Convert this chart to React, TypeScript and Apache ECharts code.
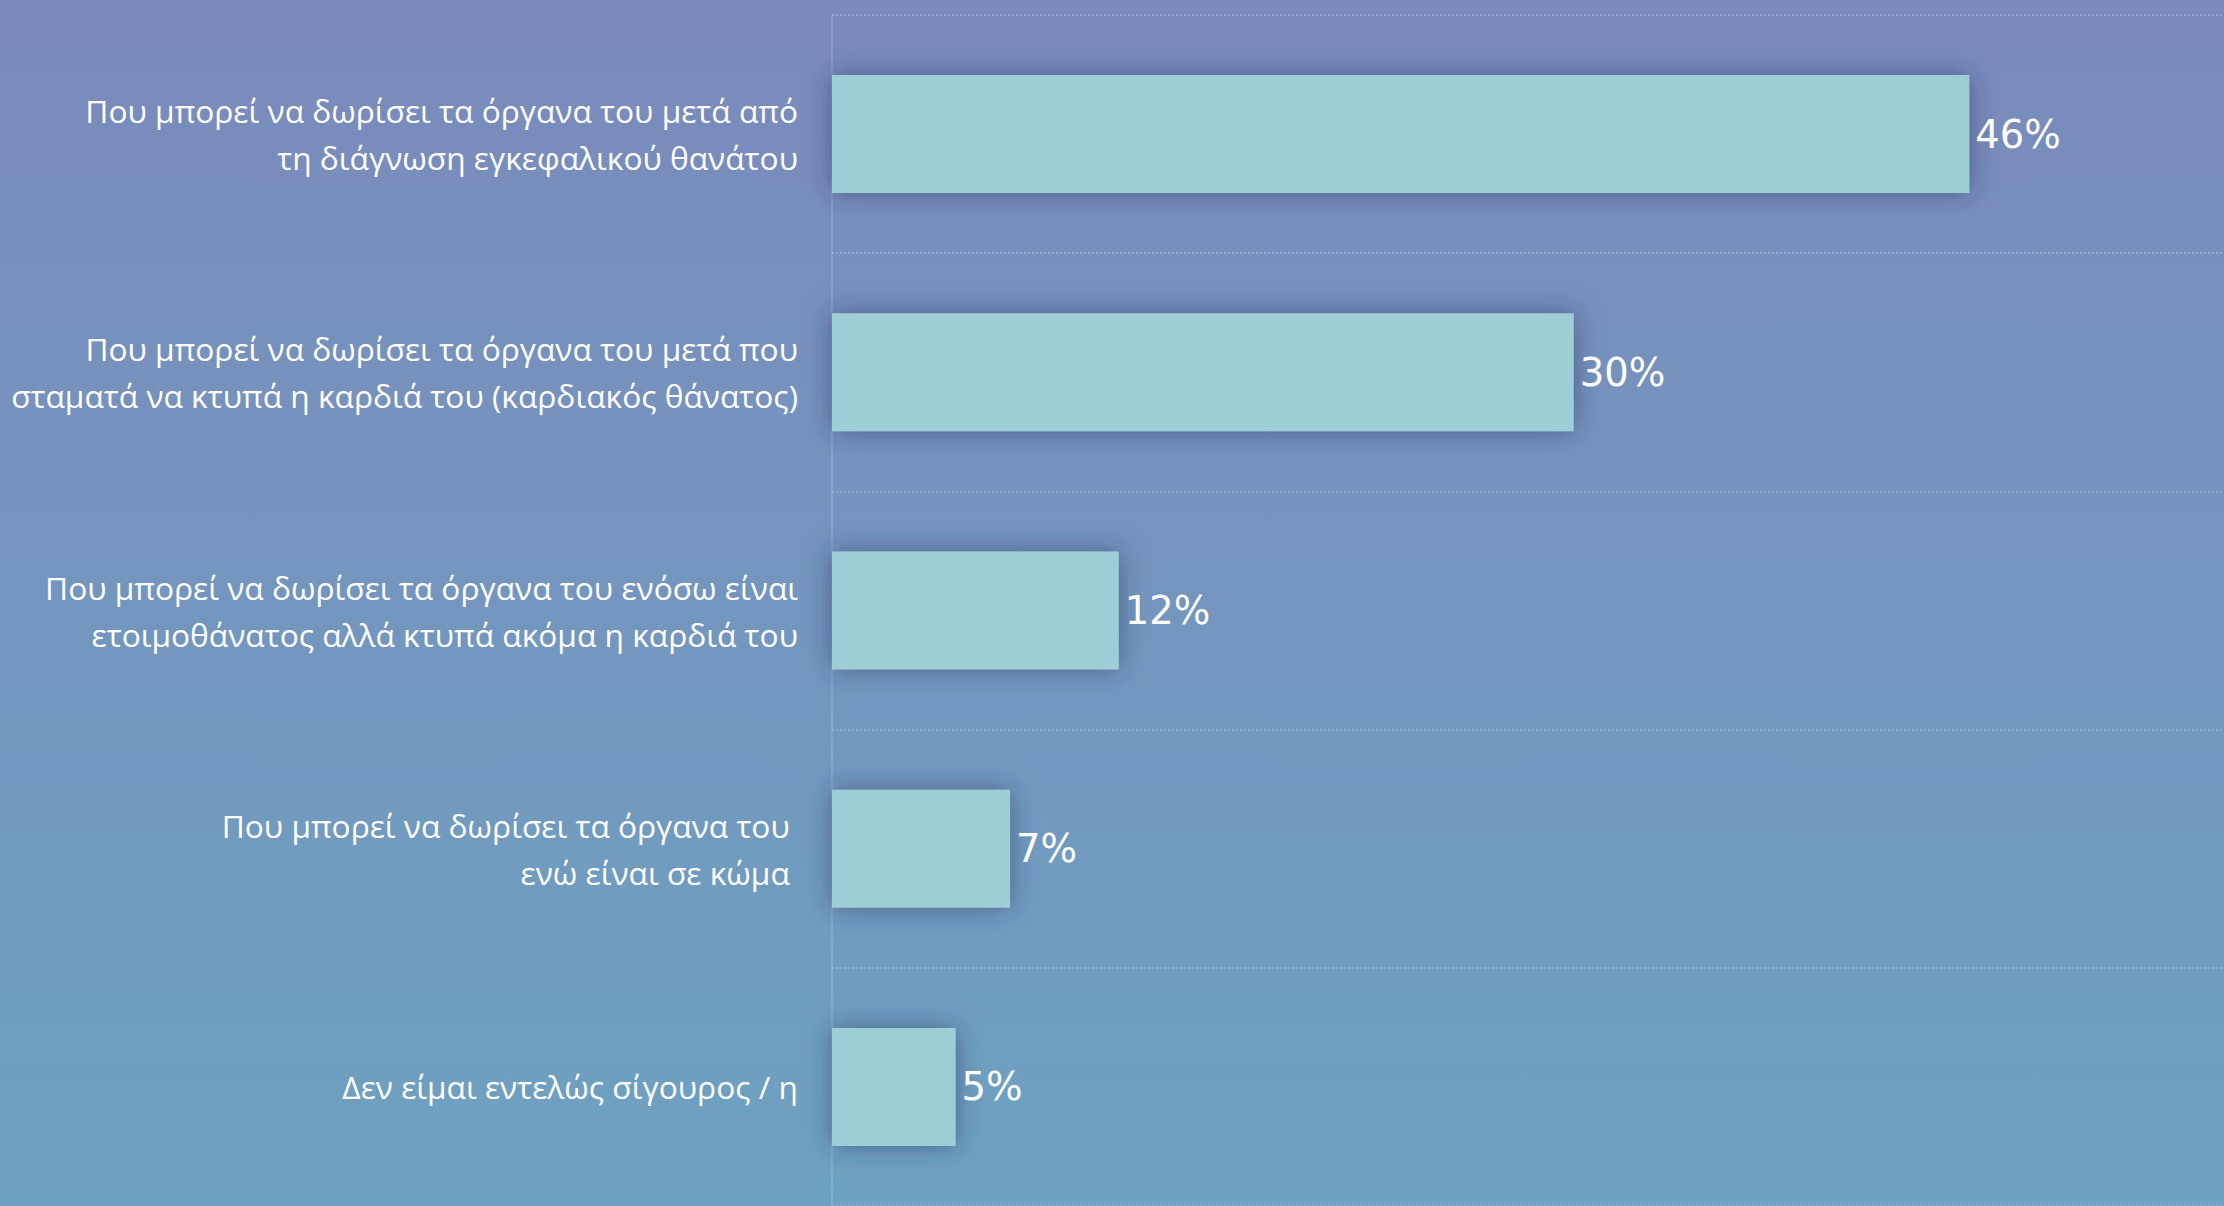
import React, { useEffect, useRef } from "react";
import * as echarts from "echarts";

const categories = [
  "Που μπορεί να δωρίσει τα όργανα του μετά από\nτη διάγνωση εγκεφαλικού θανάτου",
  "Που μπορεί να δωρίσει τα όργανα του μετά που\nσταματά να κτυπά η καρδιά του (καρδιακός θάνατος)",
  "Που μπορεί να δωρίσει τα όργανα του ενόσω είναι\nετοιμοθάνατος αλλά κτυπά ακόμα η καρδιά του",
  "Που μπορεί να δωρίσει τα όργανα του\u00a0\nενώ είναι σε κώμα\u00a0",
  "Δεν είμαι εντελώς σίγουρος / η",
];
const values = [46, 30, 11.6, 7.2, 5];

export default function App() {
  const ref = useRef<HTMLDivElement>(null);
  useEffect(() => {
    if (!ref.current) return;
    const chart = echarts.init(ref.current, null, { renderer: "svg" });
    chart.setOption({
      animation: false,
      backgroundColor: {
        type: "linear",
        x: 0,
        y: 0,
        x2: 0,
        y2: 1,
        colorStops: [
          { offset: 0, color: "#7a8abb" },
          { offset: 1, color: "#6ea2c1" },
        ],
      },
      grid: { left: 832, right: 0, top: 15, height: 1193, containLabel: false },
      xAxis: {
        type: "value",
        min: 0,
        max: 56.3,
        show: false,
        splitLine: { show: false },
      },
      yAxis: {
        type: "category",
        inverse: true,
        data: categories,
        axisLine: { show: true, lineStyle: { color: "rgba(255,255,255,0.18)", width: 1.5 } },
        axisTick: { show: false },
        axisLabel: {
          color: "#ffffff",
          fontFamily: "Open Sans",
          fontSize: 31.7,
          lineHeight: 47,
          margin: 34,
          align: "right",
        },
        splitLine: {
          show: true,
          interval: 0,
          lineStyle: { color: "rgba(255,255,255,0.22)", type: [2, 2], width: 2 },
        },
      },
      series: [
        {
          type: "bar",
          data: values,
          barWidth: 118,
          itemStyle: {
            color: "#9dcdd5",
            shadowBlur: 26,
            shadowColor: "rgba(40,50,95,0.55)",
          },
          label: {
            show: true,
            position: "right",
            distance: 6,
            formatter: (p: any) => Math.round(p.value) + "%",
            fontFamily: "DejaVu Sans",
            fontSize: 38.5,
            fontWeight: 500,
            color: "#ffffff",
          },
        },
      ],
    });
    return () => chart.dispose();
  }, []);
  return (
    <div
      ref={ref}
      style={{ position: "fixed", left: 0, top: 0, width: 2224, height: 1206 }}
    />
  );
}
